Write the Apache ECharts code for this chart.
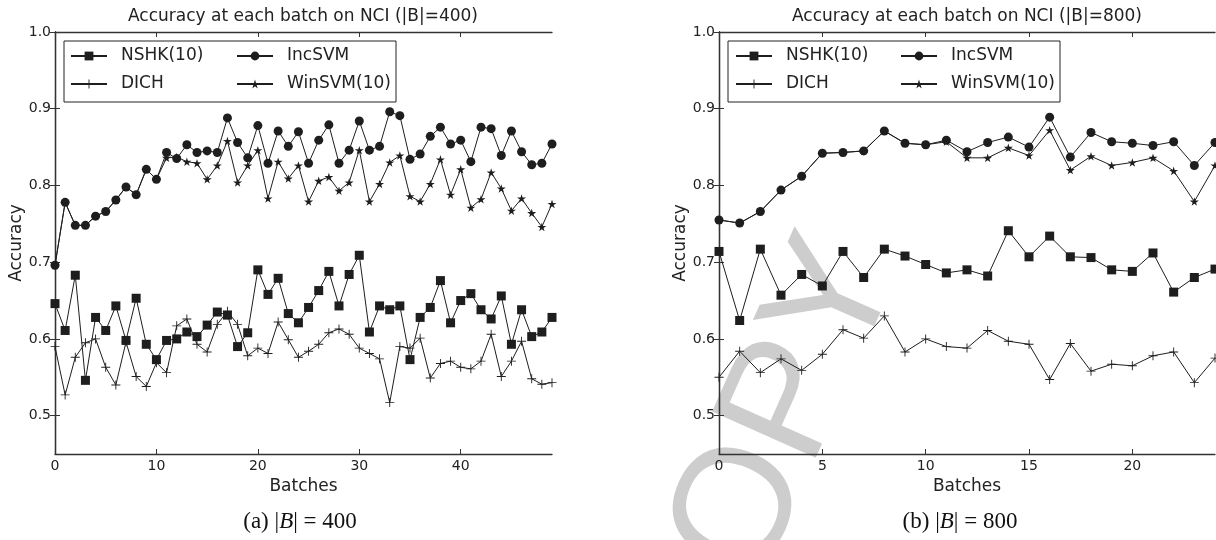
<!DOCTYPE html>
<html lang="en">
<head>
    <meta charset="UTF-8">
    <title>Accuracy at each batch on NCI</title>
    <script src="https://cdn.jsdelivr.net/npm/echarts@6/dist/echarts.min.js"></script>
    <style>
        html, body { margin: 0; padding: 0; background: #fff; }
    </style>
</head>
<body>
<div id="main" style="width: 1216px;height: 540px"></div>
<script type="text/javascript">
    // |B| = 400, batches 0..49
    var nshk400 = [0.646, 0.611, 0.683, 0.546, 0.628, 0.611, 0.643, 0.598, 0.653, 0.593,
        0.573, 0.598, 0.600, 0.609, 0.603, 0.618, 0.635, 0.631, 0.590, 0.608,
        0.690, 0.658, 0.679, 0.633, 0.621, 0.641, 0.663, 0.688, 0.643, 0.684,
        0.709, 0.609, 0.643, 0.638, 0.643, 0.573, 0.628, 0.641, 0.676, 0.621,
        0.650, 0.659, 0.638, 0.626, 0.656, 0.593, 0.638, 0.603, 0.609, 0.628];
    var inc400 = [0.696, 0.778, 0.748, 0.748, 0.760, 0.766, 0.781, 0.798, 0.788, 0.821,
        0.808, 0.843, 0.835, 0.853, 0.843, 0.845, 0.843, 0.888, 0.856, 0.836,
        0.878, 0.829, 0.871, 0.851, 0.870, 0.829, 0.859, 0.879, 0.829, 0.846,
        0.884, 0.846, 0.851, 0.896, 0.891, 0.834, 0.841, 0.864, 0.876, 0.854,
        0.859, 0.831, 0.876, 0.874, 0.839, 0.871, 0.844, 0.827, 0.829, 0.854];
    var dich400 = [0.590, 0.527, 0.576, 0.595, 0.600, 0.563, 0.540, 0.596, 0.551, 0.538,
        0.569, 0.556, 0.617, 0.626, 0.593, 0.583, 0.619, 0.636, 0.619, 0.578,
        0.588, 0.581, 0.622, 0.599, 0.576, 0.584, 0.593, 0.608, 0.613, 0.606,
        0.588, 0.581, 0.574, 0.517, 0.590, 0.588, 0.601, 0.549, 0.568, 0.571,
        0.563, 0.561, 0.571, 0.606, 0.551, 0.571, 0.597, 0.548, 0.541, 0.543];
    var win400 = [0.696, 0.778, 0.748, 0.748, 0.760, 0.766, 0.781, 0.798, 0.788, 0.821,
        0.808, 0.836, 0.837, 0.831, 0.829, 0.808, 0.826, 0.858, 0.804, 0.826,
        0.846, 0.783, 0.831, 0.809, 0.826, 0.779, 0.806, 0.811, 0.793, 0.804,
        0.846, 0.779, 0.802, 0.830, 0.839, 0.786, 0.779, 0.802, 0.834, 0.788,
        0.821, 0.771, 0.782, 0.817, 0.796, 0.767, 0.783, 0.764, 0.746, 0.776];

    // |B| = 800, batches 0..24
    var nshk800 = [0.714, 0.624, 0.717, 0.657, 0.684, 0.669, 0.714, 0.680, 0.717, 0.708,
        0.697, 0.686, 0.690, 0.682, 0.741, 0.707, 0.734, 0.707, 0.706, 0.690,
        0.688, 0.712, 0.661, 0.680, 0.691];
    var inc800 = [0.755, 0.751, 0.766, 0.794, 0.812, 0.842, 0.843, 0.845, 0.871, 0.855,
        0.853, 0.859, 0.844, 0.856, 0.863, 0.850, 0.889, 0.837, 0.869, 0.857,
        0.855, 0.852, 0.857, 0.826, 0.856];
    var dich800 = [0.550, 0.584, 0.556, 0.574, 0.559, 0.580, 0.612, 0.601, 0.630, 0.583,
        0.600, 0.590, 0.588, 0.611, 0.597, 0.593, 0.547, 0.594, 0.558, 0.567,
        0.565, 0.578, 0.583, 0.543, 0.575];
    var win800 = [0.755, 0.751, 0.766, 0.794, 0.812, 0.842, 0.843, 0.845, 0.871, 0.855,
        0.853, 0.857, 0.836, 0.836, 0.849, 0.839, 0.872, 0.820, 0.838, 0.826,
        0.830, 0.836, 0.819, 0.779, 0.826];

    var yTicks = [0.5, 0.6, 0.7, 0.8, 0.9, 1.0];
    var xTicks400 = [0, 10, 20, 30, 40];
    var xTicks800 = [0, 5, 10, 15, 20];

    var FONT = 'DejaVu Sans';
    var INK = '#1e1e1e';
    var STAR = 'path://M50,0L61,35L98,35L68,57L79,91L50,70L21,91L32,57L2,35L39,35Z';
    var PLUS = 'path://M9,0H11V9H20V11H11V20H9V11H0V9H9Z';

    function pts(arr) {
        return arr.map(function (v, i) { return [i, v]; });
    }

    function mkSeries(name, arr, sym, size, g) {
        return {
            name: name, type: 'line', xAxisIndex: g * 2, yAxisIndex: g * 2,
            data: pts(arr), symbol: sym, symbolSize: size, symbolKeepAspect: true,
            showAllSymbol: true,
            lineStyle: {color: INK, width: 1},
            itemStyle: {color: INK, borderWidth: 0},
            emphasis: {disabled: true}
        };
    }

    var frame = {show: true, lineStyle: {color: '#333', width: 1.3}};
    function tick(vals) {
        return {show: true, inside: true, length: 5, customValues: vals, lineStyle: {color: '#333'}};
    }

    function xAxes(g, max, step, ticks) {
        return [{
            type: 'value', gridIndex: g, min: 0, max: max, interval: step, position: 'bottom',
            axisLine: frame, axisTick: tick(ticks), splitLine: {show: false},
            axisLabel: {margin: 5, fontFamily: FONT, fontSize: 14, color: '#222', showMaxLabel: false},
            name: 'Batches', nameLocation: 'middle', nameGap: 22,
            nameTextStyle: {fontFamily: FONT, fontSize: 17, color: '#222'}
        }, {
            type: 'value', gridIndex: g, min: 0, max: max, interval: step, position: 'top',
            axisLine: frame, axisTick: tick(ticks), splitLine: {show: false},
            axisLabel: {show: false}
        }];
    }

    function yAxes(g) {
        return [{
            type: 'value', gridIndex: g, min: 0.45, max: 1.0, interval: 0.05, position: 'left',
            axisLine: frame, axisTick: tick(yTicks), splitLine: {show: false},
            axisLabel: {
                margin: 4, fontFamily: FONT, fontSize: 14, color: '#222',
                formatter: function (v) {
                    return Math.round(v * 100) % 10 === 0 ? v.toFixed(1) : '';
                }
            },
            name: 'Accuracy', nameLocation: 'middle', nameGap: 27,
            nameTextStyle: {fontFamily: FONT, fontSize: 17, color: '#222'}
        }, {
            type: 'value', gridIndex: g, min: 0.45, max: 1.0, interval: 0.05, position: 'right',
            axisLine: frame, axisTick: tick(yTicks), splitLine: {show: false},
            axisLabel: {show: false}
        }];
    }

    function legendCol(names, left) {
        return {
            data: names, orient: 'vertical', left: left, top: 46, padding: 0,
            itemWidth: 36, itemHeight: 11, itemGap: 8, selectedMode: false,
            textStyle: {fontFamily: FONT, fontSize: 17, color: '#222', lineHeight: 20, padding: [0, 0, 0, 9]}
        };
    }

    var capStyle = {
        fontFamily: 'Liberation Serif', fontSize: 23, color: '#111', fontWeight: 'normal',
        rich: {i: {fontFamily: 'Liberation Serif', fontSize: 23, fontStyle: 'italic', color: '#111'}}
    };
    var titleStyle = {fontFamily: FONT, fontSize: 17, color: '#222', fontWeight: 'normal'};

    var myChart = echarts.init(document.getElementById('main'));
    var option = {
        animation: false,
        backgroundColor: '#fff',
        title: [
            {text: 'Accuracy at each batch on NCI (|B|=400)', left: 303, top: 8, textAlign: 'center', padding: 0, textStyle: titleStyle},
            {text: 'Accuracy at each batch on NCI (|B|=800)', left: 967, top: 8, textAlign: 'center', padding: 0, textStyle: titleStyle},
            {text: '(a) |{i|B}| = 400', left: 300, top: 510, textAlign: 'center', padding: 0, textStyle: capStyle},
            {text: '(b) |{i|B}| = 800', left: 960, top: 510, textAlign: 'center', padding: 0, textStyle: capStyle}
        ],
        grid: [
            {left: 55, right: 664, top: 32, bottom: 86},
            {left: 719, right: 1, top: 32, bottom: 86}
        ],
        xAxis: xAxes(0, 49, 10, xTicks400).concat(xAxes(1, 24, 5, xTicks800)),
        yAxis: yAxes(0).concat(yAxes(1)),
        legend: [
            legendCol(['NSHK(10)', 'DICH'], 70),
            legendCol(['IncSVM', 'WinSVM(10)'], 236),
            legendCol(['NSHK(10)', 'DICH'], 735),
            legendCol(['IncSVM', 'WinSVM(10)'], 900)
        ],
        graphic: [
            {type: 'rect', shape: {x: 64, y: 41, width: 332, height: 61}, style: {fill: 'none', stroke: '#222', lineWidth: 1}},
            {type: 'rect', shape: {x: 728, y: 41, width: 332, height: 61}, style: {fill: 'none', stroke: '#222', lineWidth: 1}},
            {
                type: 'text', x: 763, y: 464, rotation: 66 * Math.PI / 180, z: -10,
                style: {text: 'COPY', font: '165px "Liberation Sans"', fill: '#cdcdcd', align: 'center', verticalAlign: 'middle'}
            }
        ],
        series: [
            mkSeries('NSHK(10)', nshk400, 'rect', 9, 0),
            mkSeries('IncSVM', inc400, 'circle', 9, 0),
            mkSeries('DICH', dich400, PLUS, 9, 0),
            mkSeries('WinSVM(10)', win400, STAR, 9, 0),
            mkSeries('NSHK(10)', nshk800, 'rect', 9, 1),
            mkSeries('IncSVM', inc800, 'circle', 9, 1),
            mkSeries('DICH', dich800, PLUS, 9, 1),
            mkSeries('WinSVM(10)', win800, STAR, 9, 1)
        ]
    };
    myChart.setOption(option);
</script>
</body>
</html>
